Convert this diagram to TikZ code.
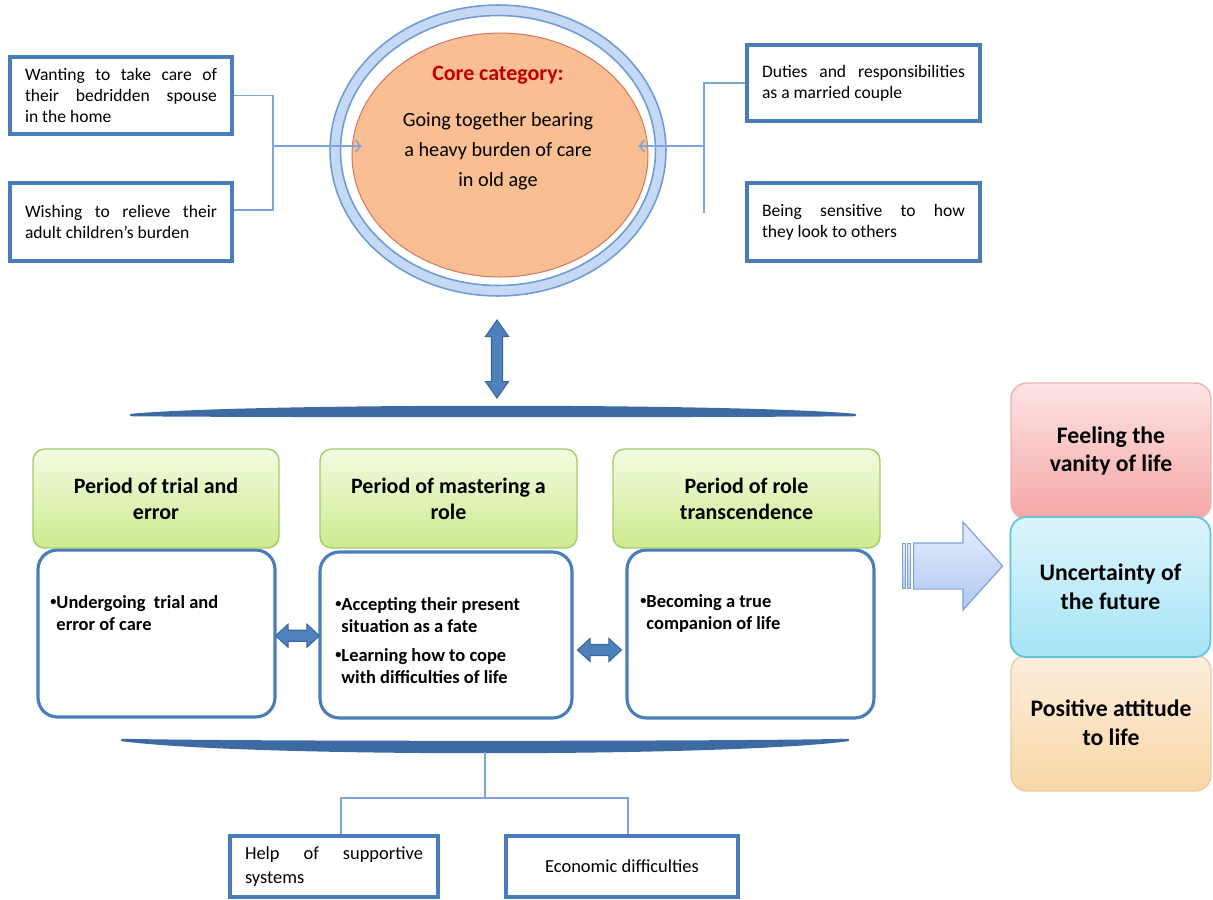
\documentclass[tikz,border=0pt]{standalone}
\usepackage{fontspec}
\setmainfont{Carlito}
\usetikzlibrary{shapes.geometric,shapes.arrows,arrows.meta,calc}

\definecolor{boxblue}{HTML}{4A7EBB}
\definecolor{connblue}{HTML}{7FA5D6}
\definecolor{arrowfill}{HTML}{4F81BD}
\definecolor{arrowline}{HTML}{3A659A}
\definecolor{ringfill}{HTML}{C6D9F4}
\definecolor{ringline}{HTML}{6F9BD6}
\definecolor{corefill}{HTML}{F9BE91}
\definecolor{coreline}{HTML}{D07A68}
\definecolor{corered}{HTML}{C00000}
\definecolor{greentop}{HTML}{F3FBE1}
\definecolor{greenbot}{HTML}{CCEB8E}
\definecolor{greenline}{HTML}{A5CB6B}
\definecolor{barblue}{HTML}{3E6AA3}
\definecolor{pinktop}{HTML}{FDE4E4}
\definecolor{pinkbot}{HTML}{F5A6A6}
\definecolor{pinkline}{HTML}{E9B4B4}
\definecolor{cyantop}{HTML}{DDF5FC}
\definecolor{cyanbot}{HTML}{A6E4F5}
\definecolor{cyanline}{HTML}{5FC3DF}
\definecolor{peachtop}{HTML}{FCEEDC}
\definecolor{peachbot}{HTML}{F9D7A6}
\definecolor{peachline}{HTML}{E6CBA4}
\definecolor{bigtop}{HTML}{E6EEFC}
\definecolor{bigbot}{HTML}{AEC7F0}
\definecolor{bigline}{HTML}{7FA2DA}

\newcommand\itembul{\raisebox{0.28ex}{\fontsize{7}{7}\selectfont\textbullet}}

\tikzset{
  smallbox/.style={draw=boxblue, line width=2pt, fill=white, inner sep=0pt, align=justify,
    font=\fontsize{10}{11.9}\selectfont},
  conn/.style={draw=connblue, line width=0.8pt},
  intip/.style={-{Straight Barb[length=3pt,width=7pt]}},
  period/.style={rounded corners=6.5pt, draw=greenline, line width=0.8pt, top color=greentop,
    bottom color=greenbot, align=center, minimum height=1.98cm, font=\bfseries\fontsize{12.5}{14.7}\selectfont},
  itembox/.style={rounded corners=11pt, draw=boxblue, line width=1.8pt, fill=white},
  itemtext/.style={anchor=north west, align=left, inner sep=0pt, font=\bfseries\fontsize{10.5}{12.5}\selectfont},
  outcome/.style={rounded corners=9pt, line width=0.8pt, align=center, minimum width=4cm,
    font=\bfseries\fontsize{13.5}{16.4}\selectfont},
  dblarrow/.style={double arrow, draw=arrowline, fill=arrowfill, line width=0.6pt, inner sep=0pt,
    inner ysep=0.1cm, double arrow head extend=0.12cm, double arrow tip angle=85, minimum height=0.88cm},
  bigarrow/.style={single arrow, draw=bigline, top color=bigtop, bottom color=bigbot, line width=0.7pt,
    inner sep=0pt, inner ysep=0.45cm, single arrow head extend=0.42cm, single arrow tip angle=96,
    minimum height=1.78cm}
}

\begin{document}
\begin{tikzpicture}[x=0.02cm, y=-0.02cm]
\useasboundingbox (0,0) rectangle (1213,899);

% core category
\node[ellipse, draw=ringline, fill=ringfill, line width=0.9pt, minimum width=6.72cm, minimum height=5.82cm] (ring) at (498,150.5) {};
\node[ellipse, draw=ringline, fill=white, line width=0.9pt, minimum width=6.3cm, minimum height=5.4cm] (ringin) at (498,150.5) {};
\node[ellipse, draw=coreline, fill=corefill, line width=0.6pt, minimum width=5.92cm, minimum height=4.88cm] (core) at (500,155) {};
\node[align=center, font=\fontsize{11.5}{17}\selectfont] (coretxt) at (498,128)
  {{\color{corered}\bfseries\fontsize{12.5}{15}\selectfont Core category:}\\[9pt]
   Going together bearing\\ a heavy burden of care\\ in old age};

% side boxes
\node[smallbox, minimum width=4.44cm, minimum height=1.54cm, text width=3.84cm] (lb1) at (121,95.5)
  {Wanting to take care of\linebreak their bedridden spouse\linebreak in the home};
\node[smallbox, minimum width=4.44cm, minimum height=1.56cm, text width=3.84cm] (lb2) at (121,222)
  {Wishing to relieve their\linebreak adult children's burden};
\node[smallbox, minimum width=4.66cm, minimum height=1.52cm, text width=4.06cm] (rb1) at (863.5,83)
  {Duties and responsibilities\linebreak as a married couple};
\node[smallbox, minimum width=4.66cm, minimum height=1.56cm, text width=4.06cm] (rb2) at (863.5,222)
  {Being sensitive to how\linebreak they look to others};

\coordinate (lj) at (273,146);
\coordinate (rj) at (704,146);
\coordinate (rend) at (704,213);
\draw[conn] (lb1.east) -| (lj) |- ($(lb2.east)+(0,-12)$);
\draw[conn, intip] (lj) -- ($(core.west)+(10,-9)$);
\draw[conn] (rb1.west) -| (rj) -- (rend);
\draw[conn, intip] (rj) -- ($(core.east)+(-10,-9)$);

% link to the periods
\node[dblarrow, rotate=90, minimum height=1.56cm, double arrow tip angle=70] (vlink) at (497,359) {};
\filldraw[barblue, line width=1.4pt, line join=round] (131,415) .. controls (250,404.3) and (735,404.3) .. (855,415)
  .. controls (735,416.3) and (250,416.3) .. cycle;

% periods
\node[itembox, minimum width=4.74cm, minimum height=3.34cm] (w1) at (156.5,633.5) {};
\node[itembox, minimum width=5.04cm, minimum height=3.32cm] (w2) at (446,635) {};
\node[itembox, minimum width=4.94cm, minimum height=3.36cm] (w3) at (750.5,634) {};
\node[period, minimum width=4.92cm] (g1) at (156,498.5) {Period of trial and\\ error};
\node[period, minimum width=5.14cm] (g2) at (448.5,498.5) {Period of mastering a\\ role};
\node[period, minimum width=5.34cm] (g3) at (746.5,498.5) {Period of role\\ transcendence};

\node[itemtext] (t1) at (50,595) {\itembul Undergoing\ \ trial and\\ \hphantom{\itembul}error of care};
\node[itemtext] (t2) at (335,597) {\itembul Accepting their present\\ \hphantom{\itembul}situation as a fate\\[4pt]
  \itembul Learning how to cope\\ \hphantom{\itembul}with difficulties of life};
\node[itemtext] (t3) at (640,594) {\itembul Becoming a true\\ \hphantom{\itembul}companion of life};

\node[dblarrow] (d12) at ($(w1.east)!0.5!(w2.west)+(0,1.5)$) {};
\node[dblarrow] (d23) at ($(w2.east)!0.5!(w3.west)+(0,15.5)$) {};

\filldraw[barblue, line width=1.4pt, line join=round] (122,740) .. controls (245,742.7) and (725,742.7) .. (848,740)
  .. controls (725,756) and (245,756) .. cycle;
\coordinate (bbar) at (485,752);

% conditions
\node[smallbox, minimum width=4.16cm, minimum height=1.22cm, text width=3.56cm,
  font=\fontsize{10.5}{13.6}\selectfont] (help) at (334,866.5) {Help of supportive\linebreak systems};
\node[smallbox, minimum width=4.64cm, minimum height=1.22cm, align=center,
  font=\fontsize{10.5}{13.6}\selectfont] (econ) at (622,866.5) {Economic difficulties};
\coordinate (bj) at (485,798);
\draw[conn] (bbar) -- (bj);
\draw[conn] ($(help.north)+(7,0)$) |- (bj) -| ($(econ.north)+(6,0)$);

% outcomes
\node[bigarrow, anchor=tail] (big) at (913,566) {};
\filldraw[draw=bigline, top color=bigtop, bottom color=bigbot, line width=0.5pt]
  ($(big.tail)+(-11,-22.5)$) rectangle ($(big.tail)+(-8,22.5)$)
  ($(big.tail)+(-6,-22.5)$) rectangle ($(big.tail)+(-3,22.5)$);

\node[outcome, draw=pinkline, top color=pinktop, bottom color=pinkbot, minimum height=2.72cm] (o1) at (1111,451) {Feeling the\\ vanity of life};
\node[outcome, draw=peachline, top color=peachtop, bottom color=peachbot, minimum height=2.72cm] (o3) at (1111,723) {Positive attitude\\ to life};
\node[outcome, draw=cyanline, top color=cyantop, bottom color=cyanbot, minimum height=2.8cm, line width=1pt] (o2) at (1110.5,587) {Uncertainty of\\ the future};
\end{tikzpicture}
\end{document}
